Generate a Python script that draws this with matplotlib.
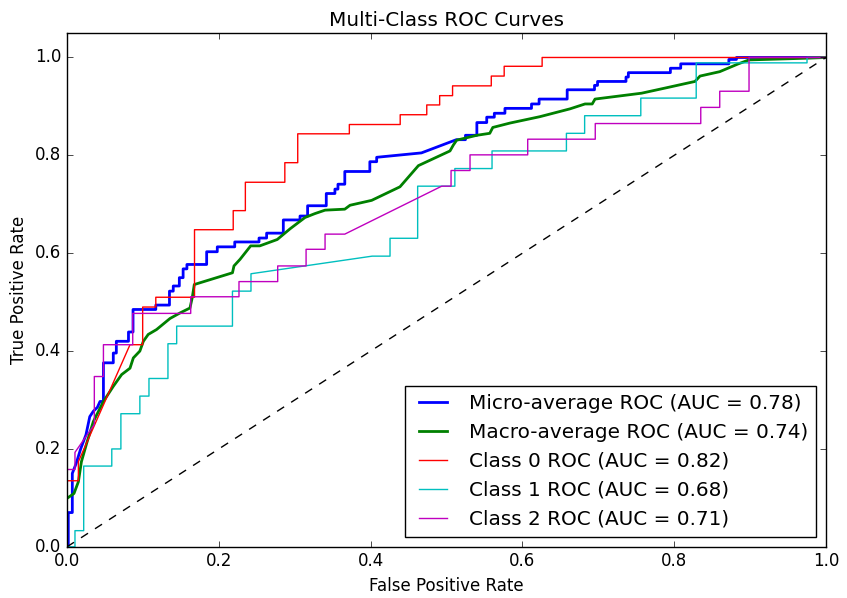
import numpy as np
import matplotlib
matplotlib.use("Agg")
import matplotlib.pyplot as plt

plt.style.use("classic")

# micro-average ROC
micro_fpr = [0, 0.0017, 0.0017, 0.007, 0.007, 0.012, 0.018, 0.025, 0.030, 0.0347, 0.040, 0.0435,
             0.048, 0.048, 0.061, 0.061, 0.065, 0.065, 0.081, 0.081, 0.087, 0.087, 0.117, 0.117,
             0.135, 0.135, 0.140, 0.140, 0.148, 0.148, 0.153, 0.153, 0.158, 0.158, 0.184, 0.184,
             0.198, 0.198, 0.221, 0.221, 0.253, 0.253, 0.263, 0.263, 0.285, 0.285, 0.307, 0.307,
             0.317, 0.317, 0.3416, 0.3416, 0.353, 0.353, 0.357, 0.357, 0.366, 0.366, 0.399, 0.399,
             0.408, 0.408, 0.467, 0.513, 0.525, 0.525, 0.540, 0.540, 0.553, 0.553, 0.563, 0.563,
             0.577, 0.577, 0.612, 0.612, 0.622, 0.622, 0.659, 0.659, 0.695, 0.695, 0.699, 0.699,
             0.7365, 0.7365, 0.7396, 0.7396, 0.795, 0.795, 0.8086, 0.8086, 0.872, 0.872, 0.882,
             0.882, 1.0]
micro_tpr = [0, 0, 0.070, 0.070, 0.150, 0.170, 0.200, 0.229, 0.266, 0.277, 0.285, 0.297,
             0.297, 0.376, 0.376, 0.396, 0.396, 0.420, 0.420, 0.439, 0.439, 0.485, 0.485, 0.494,
             0.494, 0.5225, 0.5225, 0.533, 0.533, 0.550, 0.550, 0.568, 0.568, 0.577, 0.577, 0.603,
             0.603, 0.613, 0.613, 0.623, 0.623, 0.631, 0.631, 0.641, 0.641, 0.668, 0.668, 0.676,
             0.676, 0.697, 0.697, 0.722, 0.722, 0.731, 0.731, 0.741, 0.741, 0.767, 0.767, 0.787,
             0.787, 0.796, 0.805, 0.832, 0.832, 0.841, 0.841, 0.867, 0.867, 0.878, 0.878, 0.886,
             0.886, 0.896, 0.896, 0.905, 0.905, 0.915, 0.915, 0.934, 0.934, 0.943, 0.943, 0.951,
             0.951, 0.960, 0.960, 0.969, 0.969, 0.978, 0.978, 0.987, 0.987, 0.996, 0.996,
             1.0, 1.0]

# macro-average ROC
macro_fpr = [0, 0.0092, 0.015, 0.019, 0.026, 0.0347, 0.048, 0.061, 0.072, 0.083, 0.0874, 0.096,
             0.1006, 0.107, 0.118, 0.1357, 0.149, 0.162, 0.165, 0.1677, 0.218, 0.220, 0.228, 0.242,
             0.254, 0.277, 0.294, 0.3136, 0.3267, 0.340, 0.366, 0.3729, 0.4014, 0.4387, 0.463,
             0.5046, 0.509, 0.5134, 0.540, 0.557, 0.561, 0.5837, 0.623, 0.6627, 0.6825, 0.692,
             0.6957, 0.757, 0.788, 0.8274, 0.834, 0.860, 0.8845, 0.8986, 0.977, 1.0]
macro_tpr = [0.099, 0.109, 0.133, 0.174, 0.212, 0.256, 0.297, 0.328, 0.352, 0.365, 0.386, 0.400,
             0.420, 0.434, 0.444, 0.4666, 0.478, 0.488, 0.509, 0.536, 0.560, 0.574, 0.5875, 0.615,
             0.615, 0.628, 0.650, 0.673, 0.681, 0.688, 0.690, 0.698, 0.708, 0.7357, 0.779,
             0.809, 0.821, 0.831, 0.841, 0.845, 0.857, 0.866, 0.879, 0.895, 0.905, 0.905,
             0.915, 0.927, 0.9375, 0.951, 0.962, 0.971, 0.987, 0.995, 0.9986, 1.0]

# class 0
c0_fpr = [0, 0, 0.015, 0.015, 0.083, 0.0997, 0.0997, 0.117, 0.117, 0.168, 0.168, 0.219, 0.219,
          0.235, 0.235, 0.287, 0.287, 0.304, 0.304, 0.372, 0.372, 0.439, 0.439, 0.474, 0.474,
          0.491, 0.491, 0.508, 0.508, 0.559, 0.559, 0.576, 0.576, 0.626, 0.626, 1.0]
c0_tpr = [0, 0.135, 0.135, 0.174, 0.413, 0.413, 0.490, 0.490, 0.510, 0.510, 0.648, 0.648, 0.687,
          0.687, 0.745, 0.745, 0.785, 0.785, 0.844, 0.844, 0.863, 0.863, 0.883, 0.883, 0.903,
          0.903, 0.922, 0.922, 0.942, 0.942, 0.962, 0.962, 0.982, 0.982, 1.0, 1.0]

# class 1
c1_fpr = [0, 0.0105, 0.0105, 0.022, 0.022, 0.059, 0.059, 0.071, 0.071, 0.096, 0.096, 0.108,
          0.108, 0.133, 0.133, 0.1445, 0.1445, 0.218, 0.218, 0.2424, 0.2424, 0.402, 0.4256,
          0.4256, 0.462, 0.462, 0.511, 0.511, 0.560, 0.560, 0.658, 0.658, 0.682, 0.682, 0.756,
          0.756, 0.829, 0.829, 0.975, 0.975, 1.0]
c1_tpr = [0, 0, 0.033, 0.033, 0.165, 0.165, 0.200, 0.200, 0.272, 0.272, 0.308, 0.308, 0.344,
          0.344, 0.415, 0.415, 0.451, 0.451, 0.5225, 0.5225, 0.558, 0.594, 0.594, 0.6305,
          0.6305, 0.737, 0.737, 0.773, 0.773, 0.809, 0.809, 0.845, 0.845, 0.881, 0.881, 0.917,
          0.917, 0.989, 0.989, 1.0, 1.0]

# class 2
c2_fpr = [0, 0, 0.0105, 0.0105, 0.036, 0.036, 0.048, 0.048, 0.0866, 0.0866, 0.163, 0.163,
          0.2266, 0.2266, 0.2776, 0.2776, 0.315, 0.315, 0.340, 0.340, 0.366, 0.4937, 0.506, 0.506,
          0.531, 0.531, 0.607, 0.607, 0.696, 0.696, 0.835, 0.835, 0.860, 0.860, 0.8986, 0.8986,
          1.0]
c2_tpr = [0, 0.158, 0.158, 0.193, 0.250, 0.348, 0.348, 0.413, 0.413, 0.477, 0.477, 0.511,
          0.511, 0.542, 0.542, 0.574, 0.574, 0.608, 0.608, 0.639, 0.639, 0.737, 0.737, 0.769,
          0.769, 0.801, 0.801, 0.833, 0.833, 0.865, 0.865, 0.898, 0.898, 0.931, 0.931, 1.0,
          1.0]

auc_micro = 0.78
auc_macro = 0.74
auc_class = [0.82, 0.68, 0.71]

fig = plt.figure(figsize=(8.47, 5.98), dpi=100, facecolor="white")
ax = fig.add_axes([0.0791, 0.0856, 0.8961, 0.8592])

ax.plot(micro_fpr, micro_tpr, color="b", lw=2,
        label="Micro-average ROC (AUC = {:.2f})".format(auc_micro))
ax.plot(macro_fpr, macro_tpr, color="g", lw=2,
        label="Macro-average ROC (AUC = {:.2f})".format(auc_macro))
for i, (f, t, c) in enumerate([(c0_fpr, c0_tpr, "r"), (c1_fpr, c1_tpr, "c"), (c2_fpr, c2_tpr, "m")]):
    ax.plot(f, t, color=c, lw=1, label="Class {} ROC (AUC = {:.2f})".format(i, auc_class[i]))
ax.plot([0, 1], [0, 1], "k--")

ax.set_xlim(0.0, 1.0)
ax.set_ylim(0.0, 1.05)
ax.set_xlabel("False Positive Rate")
ax.set_ylabel("True Positive Rate")
ax.set_title("Multi-Class ROC Curves")
ax.legend(loc="lower right", fontsize="large")

fig.savefig("out.png", dpi=100, facecolor="white")
